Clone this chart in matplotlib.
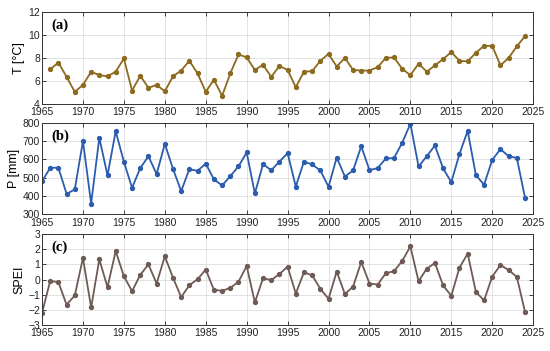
import numpy as np
import matplotlib
matplotlib.use("Agg")
import matplotlib.pyplot as plt

plt.rcParams["font.family"] = ["Liberation Sans", "DejaVu Sans"]

years_t = list(range(1966, 2025))
temp = [7.0, 7.6, 6.35, 5.05, 5.65, 6.8, 6.5, 6.4, 6.8, 7.95,
        5.15, 6.45, 5.4, 5.65, 5.1, 6.4, 6.9, 7.75, 6.65, 5.05,
        6.1, 4.7, 6.65, 8.3, 8.05, 6.95, 7.4, 6.35, 7.3, 6.95,
        5.45, 6.8, 6.85, 7.75, 8.35, 7.25, 8.0, 6.95, 6.9, 6.9,
        7.2, 8.0, 8.05, 7.05, 6.5, 7.5, 6.8, 7.35, 7.9, 8.5,
        7.75, 7.7, 8.45, 9.05, 9.05, 7.35, 8.0, 9.0, 9.9]

years = list(range(1965, 2025))
precip = [479, 554, 554, 411, 435, 700, 358, 718, 512, 754,
          587, 444, 552, 617, 519, 685, 548, 426, 546, 537,
          577, 490, 457, 508, 561, 638, 413, 574, 540, 588,
          634, 451, 588, 572, 539, 450, 610, 506, 539, 672,
          541, 552, 605, 607, 691, 795, 561, 617, 676, 550,
          475, 630, 756, 514, 461, 597, 656, 617, 608, 391]

spei = [-2.2, -0.09, -0.17, -1.66, -1.05, 1.42, -1.84, 1.33, -0.5, 1.88,
        0.22, -0.77, 0.31, 1.0, -0.26, 1.53, 0.13, -1.16, -0.37, 0.02,
        0.66, -0.68, -0.74, -0.55, -0.15, 0.9, -1.51, 0.09, -0.04, 0.37,
        0.85, -0.92, 0.48, 0.28, -0.61, -1.27, 0.53, -0.96, -0.46, 1.16,
        -0.26, -0.33, 0.42, 0.55, 1.23, 2.19, -0.11, 0.72, 1.09, -0.39,
        -1.07, 0.79, 1.71, -0.81, -1.38, 0.2, 0.96, 0.63, 0.18, -2.12]

panels = [
    ("(a)", "T [°C]", years_t, temp, "#8c6a1e", (4, 12), [4, 6, 8, 10, 12]),
    ("(b)", "P [mm]", years, precip, "#2b5cad", (300, 800), [300, 400, 500, 600, 700, 800]),
    ("(c)", "SPEI", years, spei, "#6f5a55", (-3, 3), [-3, -2, -1, 0, 1, 2, 3]),
]

fig = plt.figure(figsize=(5.5, 3.51), dpi=100)
boxes = [(0.0764, 0.704, 0.893, 0.262),
         (0.0764, 0.390, 0.893, 0.260),
         (0.0764, 0.074, 0.893, 0.259)]

for box, (tag, ylabel, xs, ys, color, ylim, yticks) in zip(boxes, panels):
    ax = fig.add_axes(box)
    ax.plot(xs, ys, color=color, lw=1.3, marker="o", ms=2.8)
    ax.set_xlim(1965, 2025)
    ax.set_ylim(*ylim)
    ax.set_xticks(range(1965, 2026, 5))
    ax.set_yticks(yticks)
    ax.tick_params(direction="in", top=True, right=True, labelsize=7.5,
                   length=3, width=0.6, colors="#222222")
    ax.tick_params(axis="y", pad=1.5)
    ax.tick_params(axis="x", pad=2.5)
    ax.grid(True, color="#dddddd", lw=0.6)
    ax.set_axisbelow(True)
    for s in ax.spines.values():
        s.set_linewidth(0.7)
        s.set_color("#333333")
    ax.set_ylabel(ylabel, fontsize=9, labelpad=2)
    ax.text(0.02, 0.93, tag, transform=ax.transAxes, fontsize=10.5,
            fontweight="bold", family="Liberation Serif", va="top", ha="left")

fig.savefig("out.png", dpi=100)
